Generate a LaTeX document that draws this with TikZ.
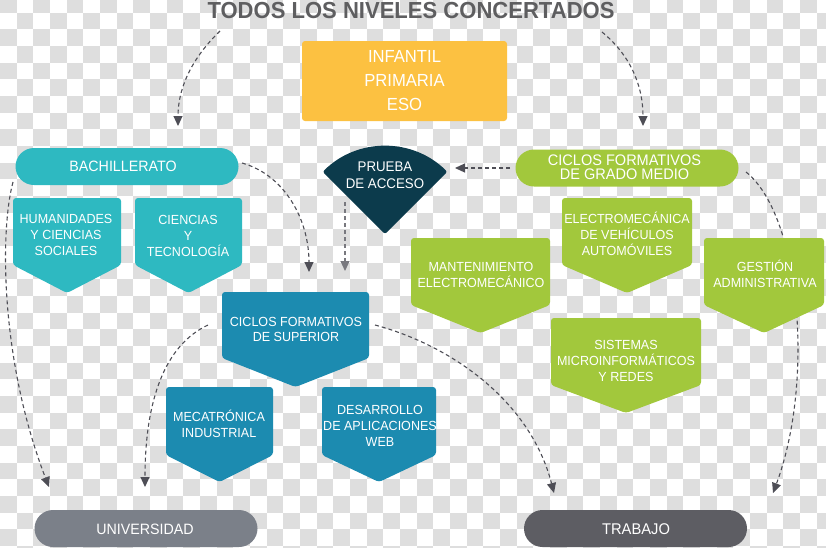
\documentclass[tikz,border=0pt]{standalone}
\usepackage{fontspec}
\setmainfont{Liberation Sans}[FakeStretch=0.95]
\usetikzlibrary{arrows.meta}
\definecolor{chk}{RGB}{222,222,222}
\definecolor{cTitle}{RGB}{94,94,96}
\definecolor{cYellow}{RGB}{252,193,65}
\definecolor{cBach}{RGB}{46,185,193}
\definecolor{cNavy}{RGB}{12,59,76}
\definecolor{cGreen}{RGB}{162,200,60}
\definecolor{cBlue}{RGB}{28,139,176}
\definecolor{cUni}{RGB}{123,128,137}
\definecolor{cTrab}{RGB}{93,93,99}
\definecolor{cArrow}{RGB}{78,78,86}
\definecolor{cArrowB}{RGB}{120,120,126}
\newcommand\pentbox[6]{%
  \fill[#1, rounded corners=3pt] (#2,{#5-10}) -- (#2,#4) -- (#3,#4) -- (#3,#5) -- ({(#2+#3)/2},#6) -- (#2,#5) -- cycle;}
\begin{document}
\begin{tikzpicture}[x=1pt,y=-1pt,
  txt/.style={text=white, align=center, inner sep=0pt},
  small/.style={font=\fontsize{13.2}{15.8}\selectfont},
  conn/.style={draw=cArrow, line width=1.1pt, dash pattern=on 4pt off 3pt,
    -{Triangle[length=10pt,width=9pt]}},
  pill/.style={inner sep=0pt, minimum width=223pt, minimum height=37pt, rounded corners=18.5pt}]
\useasboundingbox (0,0) rectangle (826,547);
\clip (0,0) rectangle (826,547);
% checkerboard background
\fill[white] (0,0) rectangle (826,547);
\foreach \i in {0,...,49}{\foreach \j in {0,...,33}{%
  \ifodd\numexpr\i+\j\relax\else
    \fill[chk] ({\i*16.667},{\j*16.667-4}) rectangle ++(16.667,16.667);
  \fi}}
% title
\node[inner sep=0pt, text=cTitle, font=\bfseries\fontsize{23.2}{23}\selectfont] (title) at (411,11) {TODOS LOS NIVELES CONCERTADOS};
% connector end points
\coordinate (a1s) at (220,31);   \coordinate (a1e) at (178,126);
\coordinate (a2s) at (602,32);   \coordinate (a2e) at (643,126);
\coordinate (a3s) at (510,168);  \coordinate (a3e) at (455,168);
\coordinate (a4s) at (242,163);  \coordinate (a4e) at (309,272);
\coordinate (a5s) at (345,202);  \coordinate (a5e) at (345,271);
\coordinate (a6s) at (13,182);   \coordinate (a6e) at (49,487);
\coordinate (a7s) at (208,325);  \coordinate (a7e) at (145,487);
\coordinate (a8s) at (375,325);  \coordinate (a8e) at (554,493);
\coordinate (a9s) at (746,172);  \coordinate (a9e) at (773,493);
% connectors
\draw[conn] (a1s) .. controls (190,60) and (178,90) .. (a1e);
\draw[conn] (a2s) .. controls (630,55) and (643,85) .. (a2e);
\draw[conn] (a3s) -- (a3e);
\draw[conn] (a4s) .. controls (285,175) and (309,220) .. (a4e);
\draw[conn, draw=cArrowB] (a5s) -- (a5e);
\draw[conn] (a6s) .. controls (0,230) and (0,360) .. (a6e);
\draw[conn] (a7s) .. controls (165,345) and (145,400) .. (a7e);
\draw[conn] (a8s) .. controls (450,345) and (530,400) .. (a8e);
\draw[conn] (a9s) .. controls (800,215) and (815,380) .. (a9e);
% yellow box
\fill[cYellow, rounded corners=3pt] (302,41) rectangle (507,121);
\node[txt, font=\fontsize{17.5}{24}\selectfont] (infantil) at (404.5,81) {INFANTIL\\PRIMARIA\\ESO};
% pills
\node[pill, fill=cBach] (bachp) at (127,166.5) {};
\node[txt, font=\fontsize{15}{15}\selectfont] (bach) at (123,166) {BACHILLERATO};
\node[pill, fill=cGreen] (gmp) at (627,168) {};
\node[txt, font=\fontsize{15.3}{14}\selectfont] (gm) at (624.5,167.5) {CICLOS FORMATIVOS\\DE GRADO MEDIO};
\node[pill, fill=cUni] (unip) at (146,528.5) {};
\node[txt, font=\fontsize{15}{15}\selectfont] (uni) at (145,529) {UNIVERSIDAD};
\node[pill, fill=cTrab] (trabp) at (635.5,528.5) {};
\node[txt, font=\fontsize{15.5}{15}\selectfont] (trab) at (636,529) {TRABAJO};
% prueba de acceso
\fill[cNavy, rounded corners=2pt] (385,234) -- ++(225:88) arc[start angle=225, end angle=315, radius=88] -- cycle;
\node[txt, font=\fontsize{14}{17}\selectfont] (prueba) at (385,175.5) {PRUEBA\\DE ACCESO};
% pentagon boxes
\pentbox{cBach}{13}{121}{198}{265}{293}
\node[txt, small] (hum) at (66,235) {HUMANIDADES\\Y CIENCIAS\\SOCIALES};
\pentbox{cBach}{135}{242}{198}{265}{293}
\node[txt, small] (cien) at (188,236) {CIENCIAS\\Y\\TECNOLOGÍA};
\pentbox{cGreen}{562}{692}{198}{265}{293}
\node[txt, small] (elec) at (627,234) {ELECTROMECÁNICA\\DE VEHÍCULOS\\AUTOMÓVILES};
\pentbox{cGreen}{411}{550}{238}{305}{333}
\node[txt, small] (mant) at (481,275) {MANTENIMIENTO\\ELECTROMECÁNICO};
\pentbox{cGreen}{704}{824}{238}{305}{333}
\node[txt, small] (gest) at (765,274) {GESTIÓN\\ADMINISTRATIVA};
\pentbox{cGreen}{551}{701}{318}{385}{413}
\node[txt, small] (sist) at (626,361) {SISTEMAS\\MICROINFORMÁTICOS\\Y REDES};
\pentbox{cBlue}{222}{369}{292}{358}{387}
\node[txt, small] (sup) at (296,329.5) {CICLOS FORMATIVOS\\DE SUPERIOR};
\pentbox{cBlue}{166}{273}{387}{455}{482}
\node[txt, small] (meca) at (219,423.5) {MECATRÓNICA\\INDUSTRIAL};
\pentbox{cBlue}{322}{436}{387}{455}{482}
\node[txt, small] (desa) at (380,426) {DESARROLLO\\DE APLICACIONES\\WEB};
\end{tikzpicture}
\end{document}
